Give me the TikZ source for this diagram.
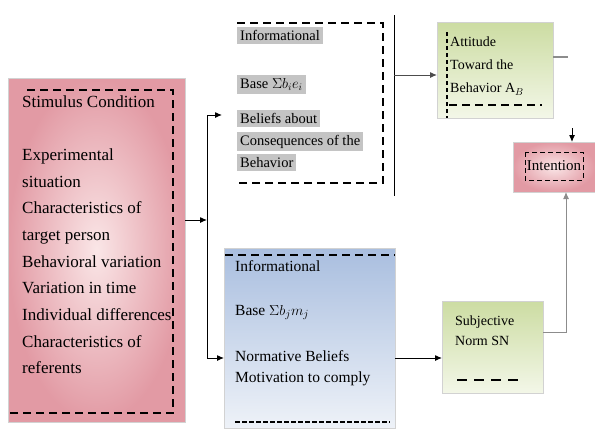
\documentclass[tikz,border=0pt]{standalone}
\usepackage{fontspec}
\setmainfont{Liberation Serif}
\usetikzlibrary{arrows.meta,positioning,calc}
\definecolor{roseD}{HTML}{E29AA4}
\definecolor{roseL}{HTML}{FAE6E7}
\definecolor{sky}{HTML}{A9BEDF}
\definecolor{skyL}{HTML}{EEF2F8}
\definecolor{leaf}{HTML}{CCDCA2}
\definecolor{leafL}{HTML}{F3F7E8}
\definecolor{hl}{HTML}{C4C4C4}
\definecolor{wire}{HTML}{8C8C8C}
\newcommand{\hlt}[1]{\colorbox{hl}{#1}}

\begin{document}
\begin{tikzpicture}[x=1pt,y=-1pt,
  box/.style={anchor=north west,inner sep=0pt,outer sep=0pt,draw=gray!35,line width=0.6pt},
  txt/.style={anchor=north west,inner sep=0pt,align=left},
  dsh/.style={dash pattern=on 8pt off 5pt,line width=1.1pt},
  ar/.style={-{Latex[length=7pt,width=6pt]},line width=1pt},
  arg/.style={-{Latex[length=7pt,width=6pt]},draw=wire,line width=1pt}]
\useasboundingbox (0,0) rectangle (595,434);
% boxes
\node[box,shading=radial,inner color=roseL,outer color=roseD,
      minimum width=177pt,minimum height=344pt] (stim) at (8,78) {};
\node[box,draw=none,minimum width=161pt,minimum height=175pt] (info) at (222,15) {};
\node[box,top color=sky,bottom color=skyL,
      minimum width=171pt,minimum height=180pt] (norm) at (224,248) {};
\node[box,top color=leaf,bottom color=leafL,
      minimum width=116pt,minimum height=96pt] (att) at (437,22) {};
\node[box,top color=leaf,bottom color=leafL,
      minimum width=101pt,minimum height=92pt] (sn) at (442,301) {};
\node[box,shading=radial,inner color=roseL,outer color=roseD,
      minimum width=82pt,minimum height=50pt] (intn) at (513,142) {};
% texts
\node[txt,font=\fontsize{17}{26.7}\selectfont] (stimtxt) at (22,95)
  {Stimulus Condition\\[26.7pt]Experimental\\situation\\Characteristics of\\target person\\
   Behavioral variation\\Variation in time\\Individual differences\\Characteristics of\\referents};
\node[txt,font=\fontsize{14.5}{22}\selectfont] (infotxt) at (237,27)
  {\hlt{Informational}\\[26pt]\hlt{Base $\Sigma b_i e_i$}\\[13pt]\hlt{Beliefs about}\\
   \hlt{Consequences of the}\\\hlt{Behavior}};
\node[txt,font=\fontsize{15.5}{21}\selectfont] (normtxt) at (235,260)
  {Informational\\[23pt]Base $\Sigma b_j m_j$\\[25pt]Normative Beliefs\\Motivation to comply};
\node[txt,font=\fontsize{14}{23}\selectfont] (atttxt) at (450,37)
  {Attitude\\Toward the\\Behavior A$_B$};
\node[txt,font=\fontsize{14}{20}\selectfont] (sntxt) at (455,316) {Subjective\\Norm SN};
\node[inner sep=0pt,font=\fontsize{15}{18}\selectfont] (intntxt) at (554,166) {Intention};
% dashed frames
\draw[dsh] (27,90) -| (173,413) -- (10,413);
\draw[dsh] (237,23) -| (383,183) -- (235,183);
\draw[dsh] (225,255) -- (395,255);
\draw[dsh,dash pattern=on 5pt off 2pt] (235,422) -- (390,422);
\draw[dsh,dash pattern=on 4pt off 3pt] (447,32) -- (447,118);
\draw[dsh] (449,105) -- (542,105);
\draw[dsh,dash pattern=on 10pt off 7pt] (457,380) -- (522,380);
\draw[dsh,dash pattern=on 5pt off 3pt,line width=1pt] (525,152) rectangle (583,180);
% connectors
\coordinate (fork) at (207,220);
\coordinate (forkT) at (207,115);
\coordinate (forkB) at (207,358);
\coordinate (sepT) at (394,15);
\coordinate (sepB) at (394,196);
\coordinate (sepA) at (394,75);
\coordinate (stubE) at (568,57);
\coordinate (dnS) at (572,128);
\coordinate (upX) at (566,332);
\draw[ar] (stim.east |- fork) -- (fork);
\draw[line width=1pt] (forkT) -- (forkB);
\draw[ar] (forkT) -- (forkT -| info.west);
\draw[ar] (forkB) -- (forkB -| norm.west);
\draw[ar] (norm.east |- forkB) -- (forkB -| sn.west);
\draw[line width=1pt] (sepT) -- (sepB);
\draw[ar,draw=black!70] (sepA) -- (sepA -| att.west);
\draw[draw=wire,line width=1.5pt] (att.east |- stubE) -- (stubE);
\draw[ar] (dnS) -- (dnS |- intn.north);
\draw[arg] (sn.east |- upX) -| (upX |- intn.south);
\end{tikzpicture}
\end{document}
